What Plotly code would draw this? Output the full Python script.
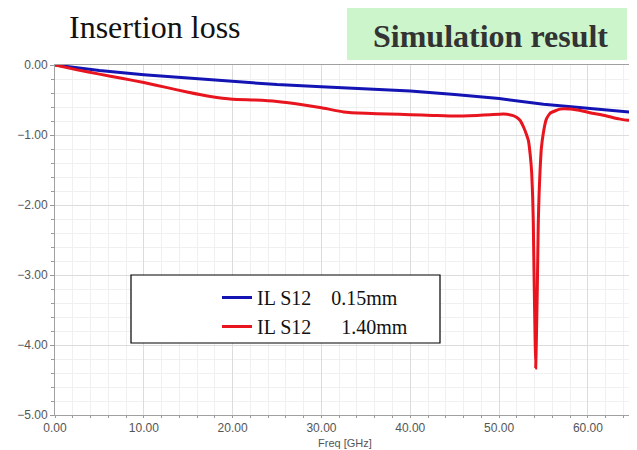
import plotly.graph_objects as go

# ---- data ----
freq_015 = [0, 5, 10, 15, 20, 25, 30, 35, 40, 45, 50, 55, 60, 65.3]
il_015 = [0.0, -0.08, -0.14, -0.19, -0.24, -0.28, -0.31, -0.34, -0.37, -0.42, -0.48, -0.56, -0.62, -0.68]

freq_140 = [0, 2.5, 5, 7.5, 10, 12.5, 15, 17.5, 20, 22.5, 25, 27.5, 30, 32.5, 35, 37.5,
            40, 42.5, 45, 47.5, 49, 50.5, 51.5, 52.0, 52.35, 52.8, 53.1, 53.3, 53.5, 53.67,
            53.78, 53.85, 53.96, 54.05, 54.12, 54.2, 54.3, 54.41, 54.5, 54.6, 54.75, 54.98,
            55.3, 55.73, 56.86, 58.0, 59.5, 60.5, 61.5, 62.5, 63.5, 64.5, 65.3]
il_140 = [0.0, -0.07, -0.13, -0.19, -0.25, -0.32, -0.39, -0.45, -0.49, -0.50, -0.52, -0.56,
          -0.61, -0.67, -0.69, -0.70, -0.71, -0.72, -0.73, -0.72, -0.71, -0.70, -0.72, -0.75,
          -0.79, -0.90, -1.00, -1.08, -1.28, -1.54, -1.90, -2.26, -3.21, -3.90, -4.33, -3.90,
          -3.21, -2.26, -1.85, -1.54, -1.20, -0.97, -0.78, -0.69, -0.63, -0.63, -0.66, -0.69,
          -0.71, -0.74, -0.77, -0.79, -0.79]

x_ticks = [0, 10, 20, 30, 40, 50, 60]
y_ticks = [0, -1, -2, -3, -4, -5]

title_text = "Insertion loss"
badge_text = "Simulation result"
x_title = "Freq [GHz]"
name_015 = "IL S12\u00a0\u00a0\u00a0\u00a00.15mm"
name_140 = "IL S12\u00a0\u00a0\u00a0\u00a0\u00a0\u00a01.40mm"

# ---- layout geometry (pixels, figure coordinates; the page adds an 8px body margin) ----
W, H = 629, 442
L, R, T, B = 47, 627, 57, 407


def px(xp):
    return (xp - L) / (R - L)


def py(yp):
    return (B - yp) / (B - T)


fig = go.Figure()
fig.add_trace(go.Scatter(x=freq_015, y=il_015, mode="lines", name=name_015,
                         line=dict(color="#1414b4", width=3)))
fig.add_trace(go.Scatter(x=freq_140, y=il_140, mode="lines", name=name_140,
                         line=dict(color="#e8141e", width=3, shape="spline", smoothing=0.4)))

axis_font = dict(family="Liberation Sans, Arial, sans-serif", size=12, color="#555555")
xtitle_font = dict(family="Liberation Sans, Arial, sans-serif", size=11, color="#555555")

fig.update_xaxes(range=[0, 65.3], tickvals=x_ticks, tickformat=".2f", automargin=False,
                 showgrid=True, gridcolor="#dcdcdc", gridwidth=1,
                 minor=dict(dtick=2, showgrid=True, gridcolor="#f0f0f0", ticks="outside",
                            ticklen=2, tickcolor="#999999"),
                 showline=True, linecolor="#a0a0a0", linewidth=1, mirror=True,
                 ticks="outside", ticklen=2, tickcolor="#999999",
                 tickfont=axis_font, zeroline=False)
fig.update_yaxes(range=[-5, 0], tickvals=y_ticks, tickformat=".2f", automargin=False,
                 showgrid=True, gridcolor="#dcdcdc", gridwidth=1,
                 minor=dict(dtick=0.2, showgrid=True, gridcolor="#f0f0f0", ticks="outside",
                            ticklen=3, tickcolor="#999999"),
                 showline=True, linecolor="#a0a0a0", linewidth=1, mirror=True,
                 ticks="outside", ticklen=4, tickcolor="#999999",
                 tickfont=axis_font, zeroline=False)

shapes = [
    dict(type="rect", xref="paper", yref="paper", x0=px(339), x1=px(619), y0=py(52), y1=py(0),
         fillcolor="#ccf5cc", line=dict(width=0), layer="above"),
    dict(type="rect", xref="paper", yref="paper", x0=px(123), x1=px(432), y0=py(335), y1=py(267),
         fillcolor="white", line=dict(color="black", width=1.2), layer="above"),
]

annotations = [
    dict(text=title_text, xref="paper", yref="paper", x=px(59), y=py(19), xanchor="left",
         yanchor="middle", showarrow=False,
         font=dict(family="Liberation Serif, Times New Roman, serif", size=32, color="#111111")),
    dict(text="<b>" + badge_text + "</b>", xref="paper", yref="paper", x=px(483), y=py(28),
         xanchor="center", yanchor="middle", showarrow=False,
         font=dict(family="Liberation Serif, Times New Roman, serif", size=32, color="#333333")),
    dict(text=x_title, xref="paper", yref="paper", x=px(337), y=py(442), xanchor="center",
         yanchor="bottom", showarrow=False, font=xtitle_font, borderpad=0),
]

fig.update_layout(
    width=W, height=H,
    margin=dict(l=L, r=W - R, t=T, b=H - B),
    paper_bgcolor="white", plot_bgcolor="white",
    shapes=shapes, annotations=annotations,
    showlegend=True,
    legend=dict(x=px(209), y=py(270), xanchor="left", yanchor="top",
                bgcolor="rgba(0,0,0,0)", borderwidth=0, tracegroupgap=0,
                font=dict(family="Liberation Serif, Times New Roman, serif", size=20, color="#111111")),
)

fig.write_html("out.html")
